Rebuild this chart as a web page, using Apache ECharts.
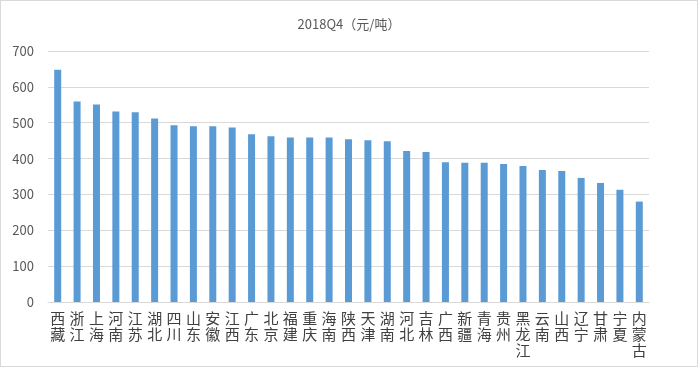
<!DOCTYPE html>
<html><head><meta charset="utf-8">
<script src="https://cdn.jsdelivr.net/npm/echarts@6/dist/echarts.min.js"></script>
<style>html,body{margin:0;padding:0;background:#fff}#c{width:698px;height:367px;box-sizing:border-box;border:1px solid #d9d9d9}</style>
</head><body><div id="c"></div>
<script>
const categories = ['西藏','浙江','上海','河南','江苏','湖北','四川','山东','安徽','江西','广东','北京','福建','重庆','海南','陕西','天津','湖南','河北','吉林','广西','新疆','青海','贵州','黑龙江','云南','山西','辽宁','甘肃','宁夏','内蒙古'];
const values = [648,559,551,531,529,512,493,490,490,487,468,462,459,459,459,454,451,448,421,418,390,388,388,385,379,368,365,346,332,313,280];
const yTicks = [0,100,200,300,400,500,600,700];
const titleText = '2018Q4（元/吨）';

const chart = echarts.init(document.getElementById('c'));
chart.setOption({
  animation: false,
  title: {text: titleText, left: 343, textAlign: 'center', top: 12,
    textStyle: {fontFamily: 'Noto Sans CJK SC', fontSize: 13, fontWeight: 'normal', color: '#595959'}},
  grid: {left: 47, right: 48, top: 50, bottom: 64},
  xAxis: {type: 'category', data: categories,
    axisLine: {lineStyle: {color: '#d9d9d9'}}, axisTick: {show: false},
    axisLabel: {interval: 0, margin: 8, color: '#404040', fontSize: 15, lineHeight: 16,
      fontFamily: 'Noto Sans CJK SC', formatter: v => v.split('').join('\n')}},
  yAxis: {type: 'value', min: yTicks[0], max: yTicks[yTicks.length-1], interval: 100,
    axisLine: {show: false}, axisTick: {show: false},
    splitLine: {lineStyle: {color: '#d9d9d9'}},
    axisLabel: {margin: 14, color: '#595959', fontSize: 13, fontFamily: 'Noto Sans CJK SC'}},
  series: [{type: 'bar', data: values, barWidth: 7, itemStyle: {color: '#5B9BD5'}}]
});
</script></body></html>
